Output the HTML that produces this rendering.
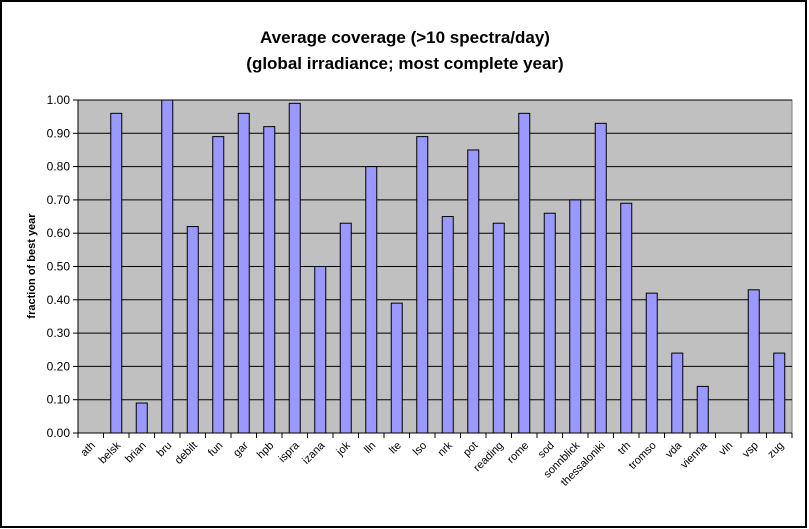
<!DOCTYPE html>
<html><head><meta charset="utf-8"><style>
body{margin:0;background:#fff;}
svg{display:block;font-family:"Liberation Sans",Arial,sans-serif;}
</style></head><body>
<svg id="chart" width="809" height="529">
<rect x="1" y="1" width="805" height="526" fill="#fff" stroke="#000" stroke-width="2"/>
<text x="405" y="43" text-anchor="middle" font-size="17" font-weight="bold">Average coverage (&gt;10 spectra/day)</text>
<text x="405" y="69" text-anchor="middle" font-size="17" font-weight="bold">(global irradiance; most complete year)</text>
<rect x="78" y="100" width="714" height="333" fill="#c0c0c0" stroke="#808080"/>
<g id="grid"></g><g id="bars"></g><g id="axes"></g>
<text transform="translate(35,266) rotate(-90)" text-anchor="middle" font-size="11" font-weight="bold">fraction of best year</text>
</svg>
<script>
const categories=["ath","belsk","brian","bru","debilt","fun","gar","hpb","ispra","izana","jok","lln","lte","lso","nrk","pot","reading","rome","sod","sonnblick","thessaloniki","trh","tromso","vda","vienna","vln","vsp","zug"];
const values=[0,0.96,0.09,1.0,0.62,0.89,0.96,0.92,0.99,0.50,0.63,0.80,0.39,0.89,0.65,0.85,0.63,0.96,0.66,0.70,0.93,0.69,0.42,0.24,0.14,0,0.43,0.24];
const yTicks=[0,0.1,0.2,0.3,0.4,0.5,0.6,0.7,0.8,0.9,1.0];
const L=78,R=792,T=100,B=433;
const step=(R-L)/categories.length;
const x=i=>L+step*(i+0.5);
const y=v=>B-(B-T)*v;
const NS="http://www.w3.org/2000/svg";
function mk(t,a,p){const e=document.createElementNS(NS,t);for(const k in a)e.setAttribute(k,a[k]);p.appendChild(e);return e;}
const grid=document.getElementById('grid'),bars=document.getElementById('bars'),axes=document.getElementById('axes');
yTicks.forEach(v=>{
  if(v>0){const g=mk('line',{x1:L,x2:R,y1:y(v),y2:y(v),stroke:'#000','stroke-width':1},grid);
  
  }
  const tk=mk('line',{x1:L-5,x2:L,y1:y(v),y2:y(v),stroke:'#000'},axes);
  
  
  const t=mk('text',{x:L-8,y:y(v)+4,'text-anchor':'end','font-size':12},axes);
  t.textContent=v.toFixed(2);
  
  
});
values.forEach((v,i)=>{
  if(v>0){const b=mk('rect',{x:x(i)-5.5,y:y(v),width:11,height:B-y(v),fill:'#9999ff',stroke:'#000','stroke-width':1},bars);
  
  }
});
mk('line',{x1:L,x2:L,y1:T,y2:B,stroke:'#000'},axes);
mk('line',{x1:L,x2:R,y1:B,y2:B,stroke:'#000'},axes);
for(let i=0;i<=categories.length;i++){
  const tk=mk('line',{x1:L+step*i,x2:L+step*i,y1:B,y2:B+5,stroke:'#000'},axes);
  
  
}
categories.forEach((c,i)=>{
  const t=mk('text',{'text-anchor':'end','font-size':11,transform:`translate(${x(i)+5},${B+13}) rotate(-45)`},axes);
  t.textContent=c;
  
  
});
</script>
</body></html>
